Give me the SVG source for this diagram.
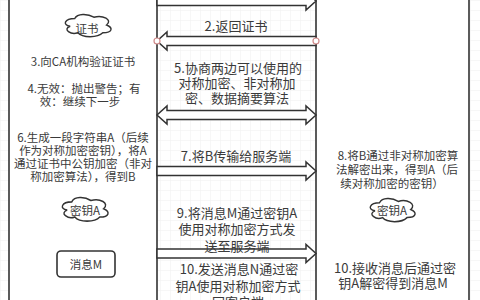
<svg xmlns="http://www.w3.org/2000/svg" width="480" height="300" viewBox="0 0 480 300">
<defs>
<pattern id="grid" width="10" height="10" patternUnits="userSpaceOnUse">
<path d="M10,0 L0,0 L0,10" fill="none" stroke="#efefef" stroke-width="1"/>
</pattern>
<path id="cloud" d="M12.5,6.25 C2.5,6.25 0,12.5 8,13.75 C0,16.5 9,22.5 15.5,20 C20,25 35,25 40,20 C50,20 50,15 43.75,12.5 C50,7.5 40,2.5 31.25,5 C25,1.25 15,1.25 12.5,6.25 Z"/>
</defs>
<style>
.t{font-family:"Noto Sans CJK SC","Liberation Sans",sans-serif;fill:#3a3a3a;text-anchor:middle;dominant-baseline:central}
.s12{font-size:11.5px}
.s13{font-size:13px}
.panel{fill:#fff;stroke:#333;stroke-width:1.6}
.arrow{fill:#fff;stroke:#333;stroke-width:1.5;stroke-linejoin:miter}
.cloud{fill:#fff;stroke:#333;stroke-width:1.4}
.pt{fill:#fff;stroke:#d08a8a;stroke-width:1.2}
</style>
<rect width="480" height="300" fill="#fff"/>
<rect width="480" height="300" fill="url(#grid)"/>
<g id="client">
<rect class="panel" x="9" y="-5" width="148" height="310"/>
</g>
<g id="server">
<rect class="panel" x="316" y="-5" width="153" height="310"/>
</g>
<g id="connectors">
<path class="arrow" d="M157,-3.5 L306,-3.5 L306,-8 L316,1 L306,10 L306,5.5 L157,5.5 Z"/>
<path class="arrow" d="M316,36.5 L167,36.5 L167,32 L157,41 L167,50 L167,45.5 L316,45.5 Z"/>
<circle class="pt" cx="157" cy="41" r="3"/>
<circle class="pt" cx="316" cy="41" r="3"/>
<path class="arrow" d="M167,110.5 L306,110.5 L306,106 L316,115 L306,124 L306,119.5 L167,119.5 L167,124 L157,115 L167,106 Z"/>
<path class="arrow" d="M157,166.5 L306,166.5 L306,162 L316,171 L306,180 L306,175.5 L157,175.5 Z"/>
<path class="arrow" d="M157,249 L306,249 L306,244.5 L316,253.5 L306,262.5 L306,258 L157,258 Z"/>
</g>
<g id="label-2"><text class="t s13" x="236" y="25">2.返回证书</text></g>
<g id="label-5">
<text class="t s13" x="238" y="67">5.协商两边可以使用的</text>
<text class="t s13" x="237" y="82">对称加密、非对称加</text>
<text class="t s13" x="237" y="97">密、数据摘要算法</text>
</g>
<g id="label-7"><text class="t s13" x="236" y="155">7.将B传输给服务端</text></g>
<g id="label-9">
<text class="t s13" x="237" y="212">9.将消息M通过密钥A</text>
<text class="t s13" x="237" y="228.5">使用对称加密方式发</text>
<text class="t s13" x="237" y="245">送至服务端</text>
</g>
<g id="label-10">
<text class="t s13" x="239" y="268">10.发送消息N通过密</text>
<text class="t s13" x="238" y="285">钥A使用对称加密方式</text>
<text class="t s13" x="238" y="301">回客户端</text>
</g>
<g id="cert-cloud">
<use href="#cloud" class="cloud" transform="translate(62,12) scale(1.02,1.04)"/>
<text class="t s12" x="87" y="28">证书</text>
</g>
<g id="step-3"><text class="t s12" x="83" y="61">3.向CA机构验证证书</text></g>
<g id="step-4">
<text class="t s12" x="84" y="87.5">4.无效：抛出警告；有</text>
<text class="t s12" x="80" y="100.5">效：继续下一步</text>
</g>
<g id="step-6">
<text class="t s12" x="83" y="137">6.生成一段字符串A（后续</text>
<text class="t s12" x="83" y="150">作为对称加密密钥），将A</text>
<text class="t s12" x="83" y="163">通过证书中公钥加密（非对</text>
<text class="t s12" x="83" y="176">称加密算法），得到B</text>
</g>
<g id="key-client">
<use href="#cloud" class="cloud" transform="translate(59,195) scale(1.02,1.1)"/>
<text class="t s12" x="85" y="210">密钥A</text>
</g>
<g id="msg-m">
<rect x="57" y="251" width="58" height="26" rx="4" fill="#fff" stroke="#333" stroke-width="1.6"/>
<text class="t s12" x="86" y="264">消息M</text>
</g>
<g id="step-8">
<text class="t s12" x="398" y="155">8.将B通过非对称加密算</text>
<text class="t s12" x="397" y="169">法解密出来，得到A（后</text>
<text class="t s12" x="392" y="182.5">续对称加密的密钥）</text>
</g>
<g id="key-server">
<use href="#cloud" class="cloud" transform="translate(367,196) scale(1,1.08)"/>
<text class="t s12" x="392" y="210">密钥A</text>
</g>
<g id="step-10">
<text class="t s13" x="395" y="267">10.接收消息后通过密</text>
<text class="t s13" x="393" y="282">钥A解密得到消息M</text>
</g>
</svg>
